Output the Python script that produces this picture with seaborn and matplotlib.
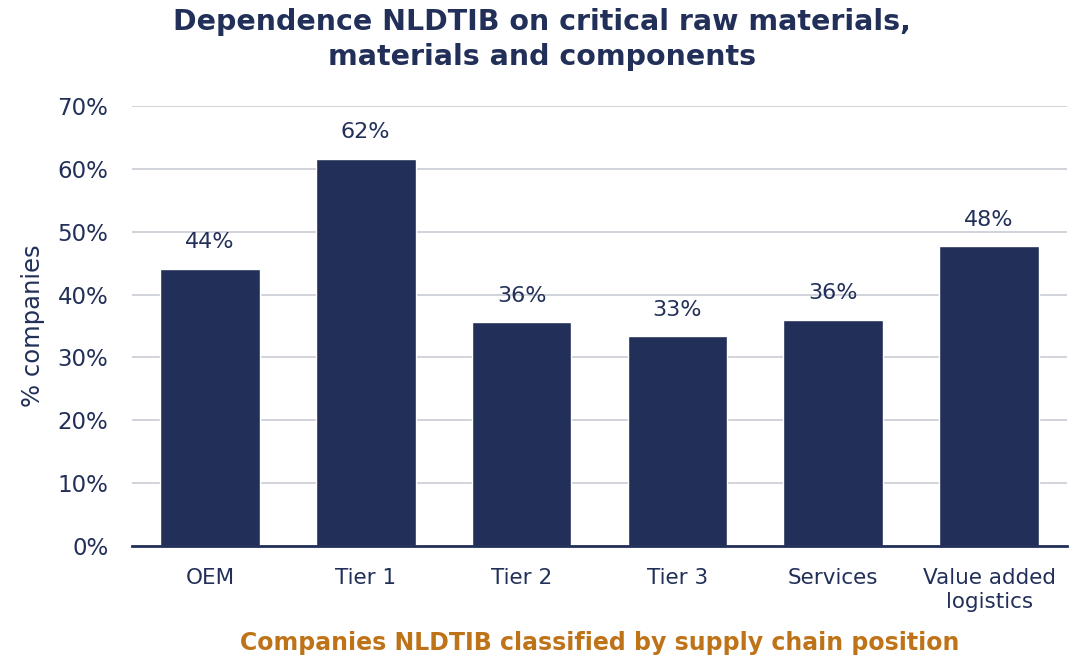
import matplotlib
matplotlib.use("Agg")
import matplotlib.pyplot as plt
import seaborn as sns
import pandas as pd

# Data
positions = ["OEM", "Tier 1", "Tier 2", "Tier 3", "Services", "Value added\nlogistics"]
share = [0.441, 0.616, 0.356, 0.334, 0.360, 0.477]
labels = ["44%", "62%", "36%", "33%", "36%", "48%"]

navy = "#223059"
orange = "#BF7319"

sns.set_theme(style="white")
plt.rcParams["font.family"] = ["DejaVu Sans"]

df = pd.DataFrame({"position": positions, "share": share})

fig = plt.figure(figsize=(10.84, 6.57), dpi=100)
# axes: x 132..1067 px, y 106..546 px
ax = fig.add_axes([132 / 1084, 1 - 546 / 657, 935 / 1084, 440 / 657])

sns.barplot(data=df, x="position", y="share", color=navy, saturation=1,
            width=0.64, ax=ax, zorder=3)

# value labels above the bars
for p, lab in zip(ax.patches, labels):
    ax.text(p.get_x() + p.get_width() / 2, p.get_height() + 0.042, lab,
            ha="center", va="center", fontsize=16, color=navy)

ax.set_xlim(-0.5, len(positions) - 0.5)
ax.set_ylim(0, 0.70)
ax.set_yticks([i / 10 for i in range(8)])
ax.set_yticklabels([f"{i * 10}%" for i in range(8)])
ax.yaxis.grid(True, color="#C8CCD3", linewidth=1.2, zorder=0)
ax.tick_params(axis="x", labelsize=15.5, colors=navy, length=0, pad=16)
ax.tick_params(axis="y", labelsize=16.5, colors=navy, length=0, pad=17)
for t in ax.get_xticklabels():
    t.set_linespacing(1.25)

for s in ["top", "right", "left"]:
    ax.spines[s].set_visible(False)
ax.spines["bottom"].set_color(navy)
ax.spines["bottom"].set_linewidth(2)
ax.spines["bottom"].set_zorder(4)

ax.set_xlabel("Companies NLDTIB classified by supply chain position",
              fontsize=17, fontweight="bold", color=orange)
ax.xaxis.set_label_coords(0.5, (546 - 643) / 440)
ax.xaxis.label.set_va("center")
ax.set_ylabel("% companies", fontsize=17.5, color=navy)
ax.yaxis.set_label_coords((33 - 132) / 935, 0.5)
ax.yaxis.label.set_va("center")

fig.text(0.5, 1 - 39.5 / 657,
         "Dependence NLDTIB on critical raw materials,\nmaterials and components",
         ha="center", va="center", fontsize=20.5, fontweight="bold", color=navy,
         linespacing=1.3)

fig.savefig("out.png", dpi=100)
